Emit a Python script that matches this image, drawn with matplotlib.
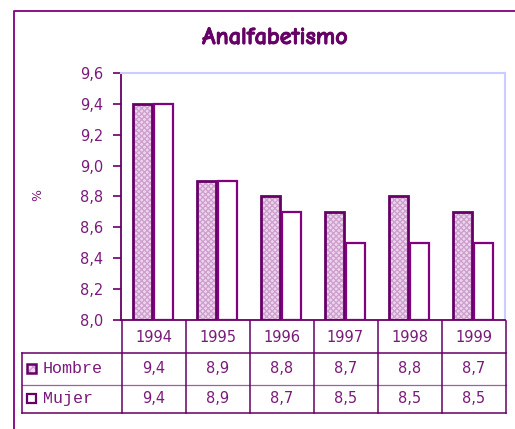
import matplotlib
matplotlib.use("Agg")
import matplotlib.pyplot as plt
import matplotlib.patheffects as pe
from matplotlib.patches import Rectangle
import numpy as np

# Data
years = ["1994", "1995", "1996", "1997", "1998", "1999"]
hombre = [9.4, 8.9, 8.8, 8.7, 8.8, 8.7]
mujer = [9.4, 8.9, 8.7, 8.5, 8.5, 8.5]
series_names = ["Hombre", "Mujer"]
yticks = [8.0, 8.2, 8.4, 8.6, 8.8, 9.0, 9.2, 9.4, 9.6]

DARK = "#660066"
PURPLE = "#800080"
TEXT = "#7a1a7a"
HATCH_FILL = "#ecd8ec"
HATCH_LINE = "#cfa0cf"

W, H = 515, 429
fig = plt.figure(figsize=(W / 100, H / 100), dpi=100)

def px_rect(x0, y0, x1, y1):
    # pixel box (top-left origin) -> figure fraction [l, b, w, h]
    return [x0 / W, 1 - y1 / H, (x1 - x0) / W, (y1 - y0) / H]

def fmt(v):
    return f"{v:.1f}".replace(".", ",")

# Outer chart frame
frame = fig.add_axes([0, 0, 1, 1])
frame.set_xlim(0, W)
frame.set_ylim(H, 0)
frame.axis("off")
frame.plot([13.5, 13.5, W + 5], [H + 5, 10.5, 10.5], color=PURPLE, lw=1.3,
           solid_capstyle="butt")

fig.text(275 / W, 1 - 38 / H, "Analfabetismo", ha="center", va="center",
         fontsize=17.5, fontweight="heavy", color=DARK,
         family=["Comic Neue", "DejaVu Sans"],
         path_effects=[pe.withStroke(linewidth=0.6, foreground=DARK)])

# Bar plot area
ax = fig.add_axes(px_rect(121, 73, 505, 320))
x = np.arange(len(years))
bw = 0.31
xh = x - bw / 2 - 0.008
xm = x + bw / 2 + 0.008
ax.bar(xh, np.array(hombre) - 8.0, bw, bottom=8.0,
       color=HATCH_FILL, edgecolor=HATCH_LINE, hatch="xxxxxx", linewidth=0,
       zorder=2)
ax.bar(xh, np.array(hombre) - 8.0, bw, bottom=8.0,
       fill=False, edgecolor=DARK, linewidth=2.0, zorder=3)
ax.bar(xm, np.array(mujer) - 8.0, bw, bottom=8.0,
       color="white", edgecolor=PURPLE, linewidth=1.6, zorder=3)

ax.set_xlim(-0.5, len(years) - 0.5)
ax.set_ylim(8.0, 9.6)
ax.set_yticks(yticks)
ax.set_yticklabels([fmt(v) for v in yticks], color=TEXT, fontsize=10.5,
                   family="DejaVu Sans")
ax.set_xticks([])
ax.tick_params(axis="y", direction="out", length=6, width=1.2, color=DARK,
               pad=7)
for side in ("top", "right"):
    ax.spines[side].set_color("#ccccff")
    ax.spines[side].set_linewidth(1.5)
ax.spines["left"].set_color(DARK)
ax.spines["left"].set_linewidth(1.3)
ax.spines["bottom"].set_color(DARK)
ax.spines["bottom"].set_linewidth(1.3)

fig.text(38 / W, 1 - 195 / H, "%", rotation=90, ha="center", va="center",
         color=TEXT, fontsize=9)

# Data table beneath the plot
tb = fig.add_axes([0, 0, 1, 1], facecolor="none")
tb.set_xlim(0, W)
tb.set_ylim(H, 0)
tb.axis("off")
x_left, x_start, x_end = 21.5, 121.5, 505.5
y_rows = [320.5, 352.5, 384.5, 412.5]
col_w = (x_end - x_start) / len(years)
lc = dict(color=DARK, lw=1.1)

tb.plot([x_left, x_end], [y_rows[1]] * 2, **lc)
tb.plot([x_left, x_end], [y_rows[2]] * 2, color="#a060a0", lw=0.9)
tb.plot([x_left, x_end], [y_rows[3]] * 2, **lc)
tb.plot([x_left, x_left], [y_rows[1], y_rows[3]], **lc)
for i in range(len(years) + 1):
    xv = x_start + i * col_w
    tb.plot([xv, xv], [y_rows[0], y_rows[3]], **lc)

font_cell = dict(ha="center", va="center", color=TEXT, fontsize=10.5,
                 family="DejaVu Sans")
for i, yr in enumerate(years):
    cx = x_start + (i + 0.5) * col_w
    tb.text(cx, (y_rows[0] + y_rows[1]) / 2 + 1, yr, **font_cell)
    tb.text(cx, (y_rows[1] + y_rows[2]) / 2, fmt(hombre[i]), **font_cell)
    tb.text(cx, (y_rows[2] + y_rows[3]) / 2, fmt(mujer[i]), **font_cell)

# legend keys in the table
for r, name in enumerate(series_names):
    yc = (y_rows[r + 1] + y_rows[r + 2]) / 2
    if r == 0:
        tb.add_patch(Rectangle((27, yc - 4.5), 9, 9, facecolor=HATCH_FILL,
                               edgecolor=HATCH_LINE, hatch="xxxx", lw=0))
        tb.add_patch(Rectangle((27, yc - 4.5), 9, 9, fill=False,
                               edgecolor=DARK, lw=1.8))
    else:
        tb.add_patch(Rectangle((27, yc - 4.5), 9, 9, facecolor="white",
                               edgecolor=DARK, lw=1.6))
    tb.text(43, yc, name, ha="left", va="center", color=TEXT, fontsize=12,
            family="Liberation Mono")

fig.savefig("out.png", dpi=100)
